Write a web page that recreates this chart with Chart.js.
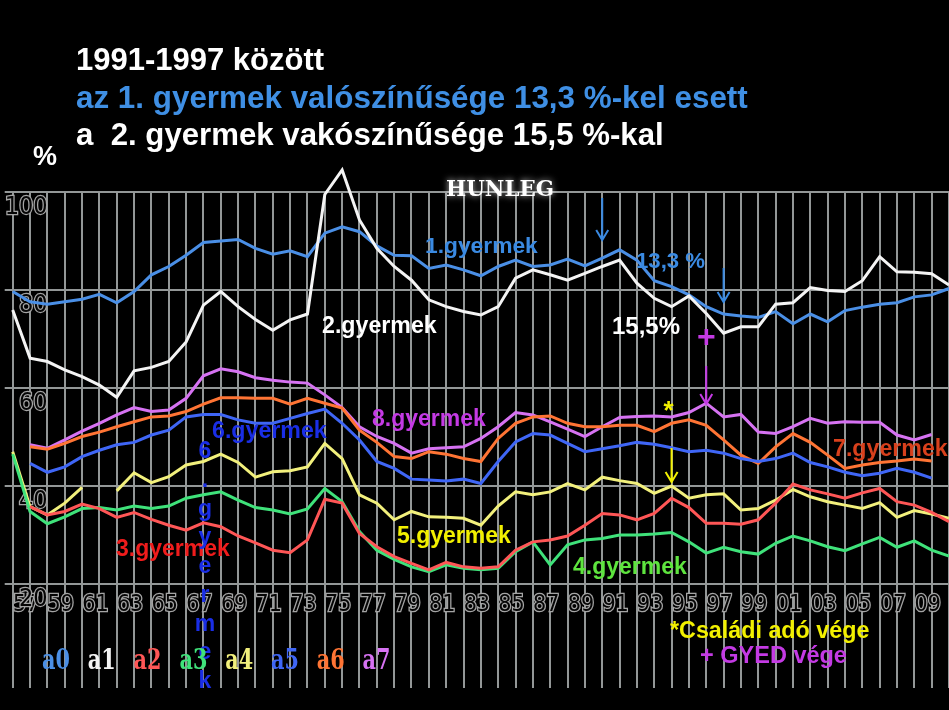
<!DOCTYPE html>
<html>
<head>
<meta charset="utf-8">
<title>HUNLEG</title>
<script src="https://cdn.jsdelivr.net/npm/chart.js@4.4.1/dist/chart.umd.min.js"></script>
<style>
  html, body { margin: 0; padding: 0; background: #000; overflow: hidden; }
  #wrap { width: 949px; height: 710px; }
</style>
</head>
<body>
<div id="wrap"><canvas id="chart" width="949" height="710"></canvas></div>
<script>
var years = [1956, 1957, 1958, 1959, 1960, 1961, 1962, 1963, 1964, 1965,
  1966, 1967, 1968, 1969, 1970, 1971, 1972, 1973, 1974, 1975,
  1976, 1977, 1978, 1979, 1980, 1981, 1982, 1983, 1984, 1985,
  1986, 1987, 1988, 1989, 1990, 1991, 1992, 1993, 1994, 1995,
  1996, 1997, 1998, 1999, 2000, 2001, 2002, 2003, 2004, 2005,
  2006, 2007, 2008, 2009, 2010];

var legendNames = ['a0', 'a1', 'a2', 'a3', 'a4', 'a5', 'a6', 'a7'];
var yTicks = [20, 40, 60, 80, 100];

// a0 - 1. gyermek
var child1 = [79.7, 77.6, 77.1, 77.6, 78.1, 79.1, 77.4, 79.7, 83.1, 84.8,
  87.1, 89.7, 90.0, 90.3, 88.5, 87.3, 88.0, 86.8, 91.6, 92.9,
  91.9, 89.0, 87.1, 87.0, 84.4, 85.1, 84.1, 82.9, 84.8, 86.1,
  84.8, 85.1, 86.3, 84.9, 86.5, 88.2, 86.1, 81.9, 80.7, 79.0,
  76.6, 75.1, 74.7, 74.4, 75.6, 73.1, 75.1, 73.5, 75.8, 76.5,
  77.1, 77.4, 78.6, 79.0, 80.3];
// a1 - 2. gyermek
var child2 = [75.9, 66.1, 65.4, 63.7, 62.3, 60.6, 58.1, 63.5, 64.2, 65.4,
  69.4, 76.9, 79.7, 76.6, 74.0, 71.8, 73.9, 75.1, 99.5, 104.5,
  94.3, 88.5, 84.8, 82.0, 78.0, 76.6, 75.6, 74.9, 76.6, 82.4,
  84.1, 83.1, 82.0, 83.4, 84.8, 86.1, 81.4, 78.3, 76.6, 78.8,
  75.2, 71.2, 72.5, 72.5, 77.1, 77.4, 80.5, 79.9, 79.7, 81.9,
  86.8, 83.7, 83.6, 83.3, 81.0];
// a2 - 3. gyermek
var child3 = [null, 35.8, 34.1, 34.8, 36.3, 35.4, 33.6, 34.6, 33.2, 32.0,
  31.0, 32.5, 31.7, 29.8, 28.4, 26.9, 26.4, 29.0, 37.3, 36.5,
  30.3, 27.6, 25.6, 24.2, 22.9, 24.4, 23.5, 23.2, 23.5, 26.9,
  28.6, 29.0, 29.8, 32.0, 34.4, 34.1, 33.1, 34.4, 37.5, 35.6,
  32.4, 32.4, 32.2, 33.1, 36.5, 40.4, 39.2, 38.4, 37.5, 38.6,
  39.5, 36.8, 36.1, 34.6, 32.7];
// a3 - 4. gyermek
var child4 = [46.5, 34.8, 32.3, 33.7, 35.4, 35.6, 35.1, 35.9, 35.4, 35.9,
  37.5, 38.2, 38.8, 37.1, 35.6, 35.1, 34.3, 35.3, 39.5, 36.8,
  30.7, 26.9, 25.0, 23.5, 22.5, 23.9, 23.2, 22.9, 23.2, 26.6,
  28.6, 23.9, 28.0, 29.0, 29.3, 30.0, 30.0, 30.2, 30.5, 28.6,
  26.3, 27.5, 26.6, 26.1, 28.3, 29.8, 28.8, 27.6, 26.8, 28.2,
  29.5, 27.5, 28.8, 26.9, 25.7];
// a4 - 5. gyermek
var child5 = [47.0, 35.8, 34.1, 36.5, 39.7, null, 39.0, 42.7, 40.7, 41.9,
  44.3, 45.0, 46.5, 44.8, 41.8, 42.9, 43.1, 43.9, 48.7, 45.6,
  38.2, 36.5, 33.1, 34.8, 33.7, 33.6, 33.4, 32.0, 35.9, 38.8,
  38.2, 38.8, 40.5, 39.2, 41.8, 41.1, 40.5, 38.5, 40.0, 37.5,
  38.2, 38.4, 35.1, 35.4, 37.1, 39.3, 37.8, 36.8, 36.1, 35.4,
  36.6, 33.6, 35.0, 34.3, 33.4];
// a5 - 6. gyermek
var child6 = [null, 44.6, 42.8, 43.9, 46.0, 47.3, 48.4, 48.9, 50.4, 51.4,
  54.1, 54.6, 54.6, 53.5, 52.8, 52.8, 53.8, 54.8, 55.7, 52.8,
  49.4, 45.0, 43.6, 41.4, 41.2, 41.0, 41.4, 40.5, 45.0, 49.0,
  50.7, 50.4, 48.7, 47.0, 47.6, 48.2, 48.9, 48.5, 47.8, 47.0,
  47.3, 46.7, 45.6, 45.0, 45.6, 46.7, 44.8, 43.9, 42.8, 42.1,
  42.6, 43.6, 42.8, 41.6, null];
// a6 - 7. gyermek
var child7 = [null, 48.0, 47.5, 48.7, 50.1, 51.0, 52.1, 53.1, 54.1, 54.3,
  55.2, 56.7, 58.0, 58.0, 57.9, 57.9, 56.7, 57.9, 56.9, 55.9,
  51.4, 48.9, 46.0, 45.6, 47.0, 46.5, 45.6, 45.0, 49.7, 52.8,
  54.1, 54.3, 52.8, 52.1, 52.1, 52.4, 52.4, 51.1, 52.8, 53.5,
  52.4, 49.4, 46.3, 44.6, 48.0, 50.7, 48.9, 46.3, 43.6, 44.3,
  44.8, 45.1, 45.5, 45.1, null];
// a7 - 8. gyermek
var child8 = [null, 48.4, 47.7, 49.4, 51.2, 52.8, 54.5, 56.0, 55.2, 55.5,
  57.9, 62.5, 63.9, 63.3, 62.1, 61.6, 61.2, 61.0, 58.6, 56.0,
  52.1, 50.1, 48.7, 46.7, 47.6, 47.8, 48.0, 49.7, 52.1, 55.0,
  54.5, 53.1, 51.6, 50.1, 52.1, 54.0, 54.2, 54.3, 54.1, 55.0,
  56.9, 54.1, 54.6, 51.0, 50.7, 52.1, 53.8, 52.8, 53.1, 53.0,
  53.0, 50.4, 49.4, 50.5, null];

var lineColors = ['#4a8fe6', '#f4f4f4', '#ff5656', '#3fe27a', '#f2f07c', '#3f66f6', '#ff7434', '#d672f2'];
var series = [child1, child2, child3, child4, child5, child6, child7, child8];

var narrow = "'DejaVu Sans Condensed', 'Liberation Sans Narrow', sans-serif";
var sans = "'Liberation Sans', Arial, sans-serif";

// text of fitted width, left edge x, vertical centre y
function fitText(ctx, text, x, y, w, color, family) {
  ctx.font = 'bold 100px ' + family;
  var m = ctx.measureText(text).width;
  ctx.font = 'bold ' + (100 * w / m).toFixed(1) + 'px ' + family;
  ctx.fillStyle = color;
  ctx.textAlign = 'left';
  ctx.textBaseline = 'middle';
  ctx.fillText(text, x, y);
}

function arrow(ctx, x, y1, y2, color) {
  ctx.strokeStyle = color;
  ctx.lineWidth = 2;
  ctx.beginPath();
  ctx.moveTo(x, y1);
  ctx.lineTo(x, y2);
  ctx.moveTo(x - 6, y2 - 10);
  ctx.lineTo(x, y2);
  ctx.lineTo(x + 6, y2 - 10);
  ctx.stroke();
}

var notes = {
  id: 'notes',
  afterDraw: function (chart) {
    var ctx = chart.ctx;
    var xs = chart.scales.x;
    ctx.save();
    // titles
    fitText(ctx, '1991-1997 között', 76, 61, 248, '#ffffff', sans);
    fitText(ctx, 'az 1. gyermek valószínűsége 13,3 %-kel esett', 76, 99, 672, '#3f8fe4', sans);
    fitText(ctx, 'a  2. gyermek vakószínűsége 15,5 %-kal', 76, 136, 588, '#ffffff', sans);
    fitText(ctx, '%', 33, 158, 24, '#ffffff', sans);

    ctx.save();
    ctx.shadowColor = 'rgba(255,255,255,0.8)';
    ctx.shadowBlur = 6;
    fitText(ctx, 'HUNLEG', 446, 190, 108, '#ffffff', "'DejaVu Serif', serif");
    ctx.restore();

    // series names
    fitText(ctx, '1.gyermek', 425, 247, 113, '#3a8ae2', sans);
    fitText(ctx, '2.gyermek', 322, 327, 115, '#ffffff', sans);
    fitText(ctx, '13,3 %', 636, 262, 69, '#3a8ae2', sans);
    fitText(ctx, '15,5%', 612, 327, 68, '#ffffff', sans);
    fitText(ctx, '8.gyermek', 372, 420, 114, '#c43ae4', sans);
    fitText(ctx, '6.gyermek', 212, 432, 115, '#1a2ee6', sans);
    fitText(ctx, '7.gyermek', 833, 450, 115, '#d8401c', sans);
    fitText(ctx, '3.gyermek', 116, 550, 114, '#f01c1c', sans);
    fitText(ctx, '5.gyermek', 397, 537, 114, '#f2f000', sans);
    fitText(ctx, '4.gyermek', 573, 568, 114, '#5ee43e', sans);

    // vertical "6.gyermek"
    var vchars = ['6', '.', 'g', 'y', 'e', 'r', 'm', 'e', 'k'];
    ctx.font = 'bold 23px ' + sans;
    ctx.fillStyle = '#1a2ee6';
    ctx.textAlign = 'center';
    ctx.textBaseline = 'middle';
    for (var i = 0; i < vchars.length; i++) {
      ctx.fillText(vchars[i], 205, 452 + i * 28.7);
    }

    // arrows and marks
    arrow(ctx, xs.getPixelForValue(34), 198, 240, '#3a8ae2');
    arrow(ctx, xs.getPixelForValue(41), 268, 302, '#3a8ae2');
    arrow(ctx, xs.getPixelForValue(40), 366, 404, '#c43ae4');
    arrow(ctx, xs.getPixelForValue(38), 448, 482, '#f2f000');
    ctx.font = 'bold 32px ' + sans;
    ctx.textAlign = 'center';
    ctx.fillStyle = '#c43ae4';
    ctx.fillText('+', xs.getPixelForValue(40), 338);
    ctx.fillStyle = '#f2f000';
    ctx.font = 'bold 26px ' + sans;
    ctx.fillText('*', xs.getPixelForValue(38) - 3, 412);

    fitText(ctx, '*Családi adó vége', 670, 632, 199, '#f2f000', sans);
    fitText(ctx, '+ GYED vége', 700, 657, 147, '#c43ae4', sans);

    // legend row, glyphs stretched upward like the screen font
    chart.data.datasets.forEach(function (ds, k) {
      ctx.save();
      ctx.translate(0, 662);
      ctx.scale(1, 1.35);
      fitText(ctx, ds.label, 42 + k * 45.8, 0, 28, ds.borderColor, "'DejaVu Serif', serif");
      ctx.restore();
    });
    ctx.restore();
  }
};

var datasets = series.map(function (vals, k) {
  return {
    label: legendNames[k],
    data: vals,
    borderColor: lineColors[k],
    borderWidth: 3,
    pointRadius: 0,
    tension: 0,
    spanGaps: false,
    clip: false,
    order: k === 1 ? -1 : k
  };
});

new Chart(document.getElementById('chart'), {
  type: 'line',
  data: { labels: years, datasets: datasets },
  options: {
    responsive: false,
    animation: false,
    events: [],
    layout: { padding: { top: 192, left: 0, right: 0, bottom: 0 } },
    plugins: { legend: { display: false }, tooltip: { enabled: false } },
    scales: {
      x: {
        grid: { color: '#939797', lineWidth: 2, tickLength: 104 },
        border: { display: false },
        ticks: {
          autoSkip: false,
          maxRotation: 0,
          padding: -97,
          labelOffset: -4,
          color: '#050505',
          textStrokeColor: '#a4a4a4',
          textStrokeWidth: 2.5,
          font: { family: narrow, size: 23 },
          callback: function (val, i) {
            var yr = years[i];
            return yr % 2 ? String(yr).slice(2) : '';
          }
        },
        afterFit: function (s) { s.height = 126; }
      },
      y: {
        min: 20,
        max: 100,
        afterBuildTicks: function (s) {
          s.ticks = yTicks.map(function (v) { return { value: v }; });
        },
        grid: { color: '#939797', lineWidth: 2, tickLength: 8 },
        border: { display: false },
        ticks: {
          mirror: true,
          padding: -8,
          labelOffset: 15,
          color: '#050505',
          textStrokeColor: '#a4a4a4',
          textStrokeWidth: 2.5,
          font: { family: narrow, size: 25 },
          callback: function (v) { return String(v).padStart(3, '\u2007'); }
        },
        afterFit: function (s) { s.width = 12.7; }
      }
    }
  },
  plugins: [notes]
});
</script>
</body>
</html>
